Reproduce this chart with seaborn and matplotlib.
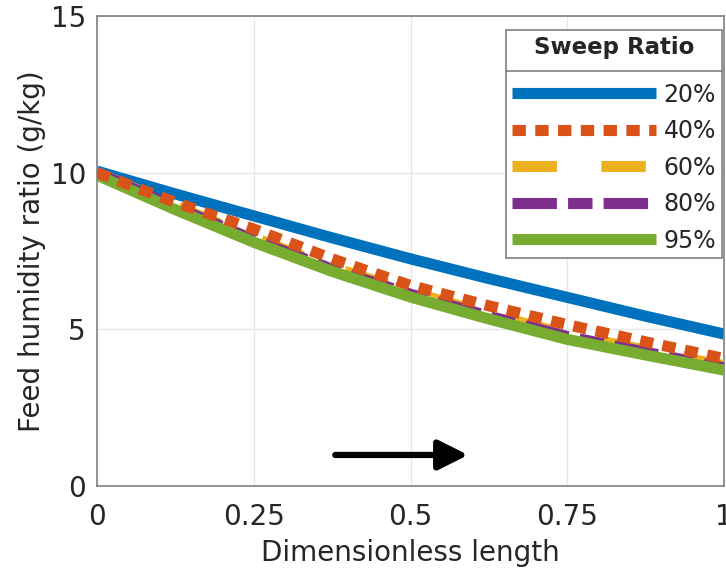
import numpy as np
import pandas as pd
import seaborn as sns
import matplotlib
matplotlib.use("Agg")
import matplotlib.pyplot as plt
from matplotlib.lines import Line2D

# ---- data ----
x_pos = [0.0, 0.125, 0.25, 0.375, 0.5, 0.625, 0.75, 0.875, 1.0]
ratio_labels = ["20%", "40%", "60%", "80%", "95%"]
h_20 = [10.05, 9.32, 8.62, 7.92, 7.25, 6.62, 6.02, 5.42, 4.85]
h_40 = [10.0, 9.05, 8.20, 7.25, 6.40, 5.75, 5.15, 4.60, 4.07]
h_60 = [10.0, 8.94, 7.92, 6.98, 6.19, 5.49, 4.84, 4.33, 3.84]
h_80 = [10.0, 8.90, 7.86, 6.92, 6.12, 5.42, 4.77, 4.27, 3.77]
h_95 = [9.92, 8.82, 7.78, 6.85, 6.03, 5.33, 4.68, 4.18, 3.70]
x_ticks = [0, 0.25, 0.5, 0.75, 1]
x_tick_labels = ["0", "0.25", "0.5", "0.75", "1"]
y_ticks = [0, 5, 10, 15]
arrow_start = (0.38, 0.99)
arrow_end = (0.592, 0.99)

series = [h_20, h_40, h_60, h_80, h_95]
colors = ["#0072BD", "#D95319", "#EDB120", "#7E2F8E", "#77AC30"]
styles = ["-", (0, (1.2, 0.85)), (0, (4, 4)), (0, (4, 1, 2.2, 1)), "-"]
zorders = [2, 6, 3, 4, 5]

sns.set_style("white")
plt.rcParams["font.family"] = ["DejaVu Sans"]

fig = plt.figure(figsize=(7.26, 5.77), dpi=100)
ax = fig.add_axes([97 / 726, 1 - 486 / 577, (724 - 97) / 726, (486 - 16) / 577])

for vals, lab, col, ls, z in zip(series, ratio_labels, colors, styles, zorders):
    df = pd.DataFrame({"x": x_pos, "y": vals})
    sns.lineplot(data=df, x="x", y="y", ax=ax, color=col, linestyle=ls,
                 linewidth=8, label=lab, zorder=z, solid_capstyle="butt",
                 dash_capstyle="butt")

ax.set_xlim(0, 1)
ax.set_ylim(0, 15)
ax.set_xticks(x_ticks)
ax.set_xticklabels(x_tick_labels)
ax.set_yticks(y_ticks)
ax.grid(True, color="#e6e6e6", linewidth=1.0)
ax.set_axisbelow(True)
for s in ax.spines.values():
    s.set_visible(True)
    s.set_color("#808080")
    s.set_linewidth(1.2)
ax.tick_params(direction="in", length=5, color="#606060", labelsize=20,
               labelcolor="#262626")
ax.tick_params(axis="x", pad=12)
ax.tick_params(axis="y", pad=8)
ax.set_xlabel("Dimensionless length", fontsize=20, color="#262626", labelpad=6)
ax.set_ylabel("Feed humidity ratio (g/kg)", fontsize=20, color="#262626", labelpad=3)

ax.annotate("", xy=arrow_end, xytext=arrow_start,
            arrowprops=dict(arrowstyle="-|>", lw=4.5, color="black",
                            mutation_scale=45, shrinkA=0, shrinkB=0))

leg = ax.legend(loc="upper right", bbox_to_anchor=((722 - 97) / 627, (486 - 30) / 470),
                borderaxespad=0, fontsize=17, title="Sweep Ratio",
                title_fontproperties={"weight": "bold", "size": 16.5},
                handlelength=6.1, handletextpad=0.3, labelspacing=0.53,
                borderpad=0.25, fancybox=False, framealpha=1, edgecolor="#808080")
leg.get_frame().set_linewidth(1.2)
leg.set_zorder(10)
try:
    leg._legend_box.sep = 17
except Exception:
    pass

fig.canvas.draw()
fb = leg.get_frame().get_window_extent()
tb = leg.get_title().get_window_extent()
first_text = leg.get_texts()[0].get_window_extent()
ysep = 0.5 * (tb.y0 + first_text.y1)
inv = fig.transFigure.inverted()
(x0, y0) = inv.transform((fb.x0, ysep))
(x1, _) = inv.transform((fb.x1, ysep))
fig.add_artist(Line2D([x0, x1], [y0, y0], color="#808080", lw=1.2, zorder=11))

fig.savefig("out.png", dpi=100)
